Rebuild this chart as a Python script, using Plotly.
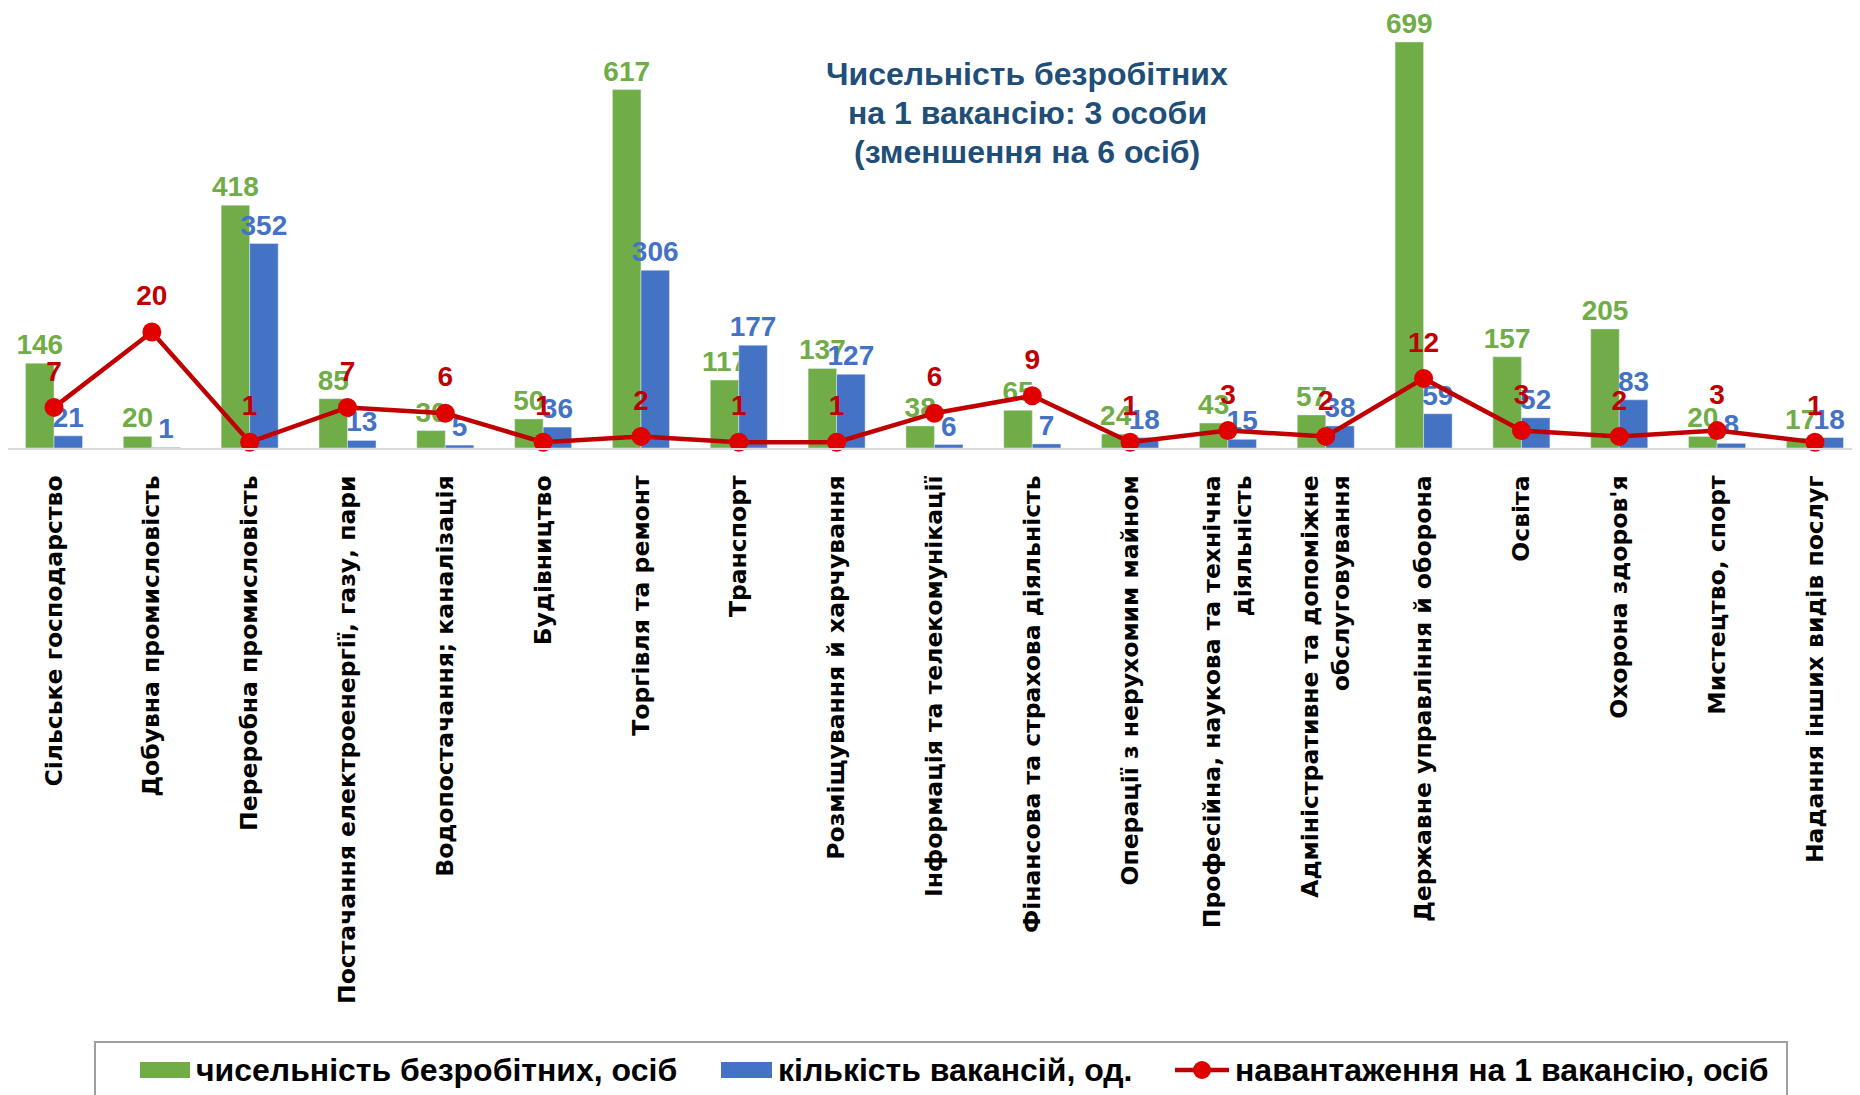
import plotly.graph_objects as go

categories = [
    "Сільське господарство",
    "Добувна промисловість",
    "Переробна промисловість",
    "Постачання електроенергії, газу, пари",
    "Водопостачання; каналізація",
    "Будівництво",
    "Торгівля та ремонт",
    "Транспорт",
    "Розміщування й харчування",
    "Інформація та телекомунікації",
    "Фінансова та страхова діяльність",
    "Операції з нерухомим майном",
    "Професійна, наукова та технічна<br>діяльність",
    "Адміністративне та допоміжне<br>обслуговування",
    "Державне управління й оборона",
    "Освіта",
    "Охорона здоров'я",
    "Мистецтво, спорт",
    "Надання інших видів послуг",
]
unemployed = [146, 20, 418, 85, 30, 50, 617, 117, 137, 38, 65, 24, 43, 57, 699, 157, 205, 20, 17]
vacancies = [21, 1, 352, 13, 5, 36, 306, 177, 127, 6, 7, 18, 15, 38, 59, 52, 83, 8, 18]
load_per_vacancy = [7, 20, 1, 7, 6, 1, 2, 1, 1, 6, 9, 1, 3, 2, 12, 3, 2, 3, 1]

series_names = ["чисельність безробітних, осіб", "кількість вакансій, од.", "навантаження на 1 вакансію, осіб"]
note_lines = ["Чисельність безробітних", "на 1 вакансію: 3 особи", "(зменшення на 6 осіб)"]

GREEN = "#70AD47"
BLUE = "#4472C4"
RED = "#C00000"
MARKER_RED = "#E00000"
NAVY = "#1F4E79"
FONT = "Liberation Sans, Arial, sans-serif"

# page geometry (the html body adds an 8px offset)
OFF = 8
W, H = 1860 - OFF, 1095 - OFF
PLOT_BOTTOM_PAGE = 448
PLOT_H = PLOT_BOTTOM_PAGE - OFF


def px(page_x):
    return (page_x - OFF) / W


def py(page_y):
    return (PLOT_BOTTOM_PAGE - page_y) / PLOT_H


x = list(range(len(categories)))
LABEL_SIZE = 28

fig = go.Figure()
fig.add_trace(go.Bar(
    x=x, y=unemployed, name=series_names[0], marker_color=GREEN,
    text=unemployed, texttemplate="<b>%{text}</b>", textposition="outside",
    constraintext="none", cliponaxis=False,
    textfont=dict(color=GREEN, size=LABEL_SIZE, family=FONT),
))
fig.add_trace(go.Bar(
    x=x, y=vacancies, name=series_names[1], marker_color=BLUE,
    text=vacancies, texttemplate="<b>%{text}</b>", textposition="outside",
    constraintext="none", cliponaxis=False,
    textfont=dict(color=BLUE, size=LABEL_SIZE, family=FONT),
))
fig.add_trace(go.Scatter(
    x=x, y=load_per_vacancy, name=series_names[2], yaxis="y2",
    mode="lines+markers",
    line=dict(color=RED, width=4.5),
    marker=dict(color=MARKER_RED, size=19, line=dict(color=MARKER_RED, width=0)),
    cliponaxis=False, hoverinfo="skip",
))
# labels for the line, lifted a little higher above the markers
fig.add_trace(go.Scatter(
    x=x, y=load_per_vacancy, yaxis="y2", showlegend=False,
    mode="markers+text", text=["<b>%d</b>" % v for v in load_per_vacancy],
    textposition="top center",
    marker=dict(size=30, opacity=0),
    textfont=dict(color=RED, size=LABEL_SIZE, family=FONT), cliponaxis=False,
    hoverinfo="skip",
))

# info note, one annotation per line
for line_text, line_y in zip(note_lines, [74, 113, 152]):
    fig.add_annotation(
        x=px(1027), y=py(line_y), xref="paper", yref="paper", text="<b>" + line_text + "</b>",
        showarrow=False, align="center", xanchor="center", yanchor="middle",
        font=dict(color=NAVY, size=32, family=FONT),
    )

# legend box
fig.add_shape(
    type="rect", xref="paper", yref="paper",
    x0=px(95), x1=px(1787), y0=py(1042), y1=py(1120),
    line=dict(color="#A0A0A0", width=2), fillcolor="rgba(0,0,0,0)", layer="below",
)

# manual legend
LEG_Y = 1070
legend_font = dict(size=32, color="black", family=FONT)
fig.add_shape(type="rect", xref="paper", yref="paper",
              x0=px(140), x1=px(190), y0=py(LEG_Y - 8), y1=py(LEG_Y + 8),
              line=dict(width=0), fillcolor=GREEN)
fig.add_annotation(x=px(194), y=py(LEG_Y), xref="paper", yref="paper",
                   text="<b>" + series_names[0] + "</b>", showarrow=False,
                   xanchor="left", yanchor="middle", font=legend_font)
fig.add_shape(type="rect", xref="paper", yref="paper",
              x0=px(721), x1=px(772), y0=py(LEG_Y - 8), y1=py(LEG_Y + 8),
              line=dict(width=0), fillcolor=BLUE)
fig.add_annotation(x=px(776), y=py(LEG_Y), xref="paper", yref="paper",
                   text="<b>" + series_names[1] + "</b>", showarrow=False,
                   xanchor="left", yanchor="middle", font=legend_font)
fig.add_shape(type="line", xref="paper", yref="paper",
              x0=px(1175), x1=px(1229), y0=py(LEG_Y), y1=py(LEG_Y),
              line=dict(color=RED, width=4.5))
fig.add_shape(type="circle", xref="paper", yref="paper",
              x0=px(1193), x1=px(1211), y0=py(LEG_Y - 9), y1=py(LEG_Y + 9),
              line=dict(width=0), fillcolor=MARKER_RED)
fig.add_annotation(x=px(1233), y=py(LEG_Y), xref="paper", yref="paper",
                   text="<b>" + series_names[2] + "</b>", showarrow=False,
                   xanchor="left", yanchor="middle", font=legend_font)

fig.update_layout(
    width=W, height=H,
    margin=dict(l=0, r=0, t=0, b=H - PLOT_H),
    paper_bgcolor="white", plot_bgcolor="white",
    barmode="group", bargap=0.417, bargroupgap=0.0,
    showlegend=False,
    font=dict(family=FONT),
    xaxis=dict(
        tickmode="array", tickvals=x, ticktext=["<b>" + c + "</b>" for c in categories],
        tickangle=-90, range=[-0.4702, 18.461],
        tickfont=dict(size=23.5, color="black", family="DejaVu Sans, Verdana, sans-serif"),
        showline=True, linecolor="#D9D9D9", linewidth=2, showgrid=False, zeroline=False,
        ticks="", ticklabelstandoff=16, automargin=False,
    ),
    yaxis=dict(range=[0, 757.5], visible=False, showgrid=False, zeroline=False),
    yaxis2=dict(range=[0, 75.86], overlaying="y", visible=False, showgrid=False, zeroline=False),
)

fig.write_html("out.html")
